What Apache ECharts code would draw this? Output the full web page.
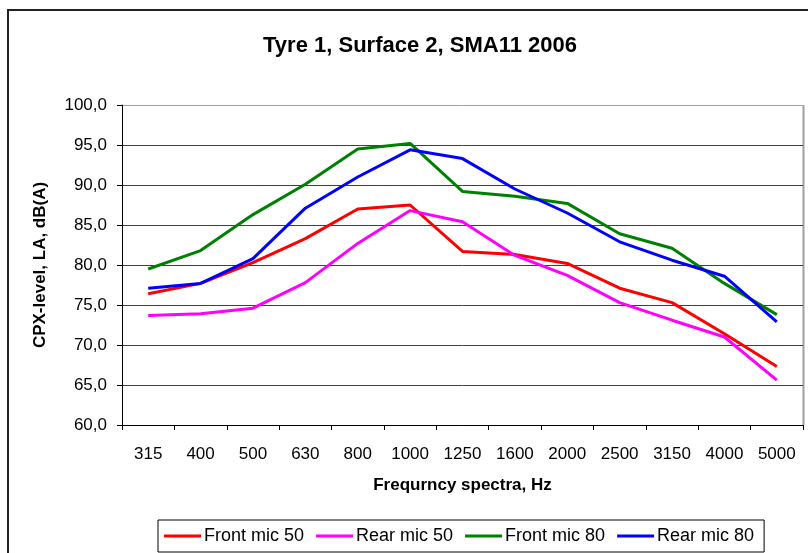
<!DOCTYPE html>
<html>
<head>
<meta charset="utf-8">
<title>Tyre 1, Surface 2, SMA11 2006</title>
<script src="https://cdn.jsdelivr.net/npm/echarts@6/dist/echarts.min.js"></script>
<style>
    html, body { margin: 0; padding: 0; background: #fff; }
    #chart { width: 808px; height: 553px; }
</style>
</head>
<body>
<div id="chart"></div>
<script>
// frequency bands (Hz)
const categories = ['315', '400', '500', '630', '800', '1000', '1250', '1600', '2000', '2500', '3150', '4000', '5000'];

// CPX-level, LA, dB(A)
const frontMic50 = [76.4, 77.7, 80.3, 83.3, 87.0, 87.5, 81.7, 81.3, 80.2, 77.1, 75.3, 71.4, 67.3];
const rearMic50  = [73.7, 73.9, 74.6, 77.8, 82.7, 86.8, 85.4, 81.2, 78.7, 75.3, 73.1, 71.0, 65.6];
const frontMic80 = [79.5, 81.8, 86.3, 90.1, 94.5, 95.2, 89.2, 88.6, 87.7, 83.9, 82.1, 77.7, 73.8];
const rearMic80  = [77.1, 77.7, 80.8, 87.1, 91.0, 94.4, 93.3, 89.5, 86.5, 82.9, 80.6, 78.6, 72.9];

const yTicks = { min: 60, max: 100, step: 5 };

const chart = echarts.init(document.getElementById('chart'), null, { renderer: 'canvas' });

// dark grid lines, the top one (100,0) is the light plot border
const gridColors = [];
for (let v = yTicks.min; v <= yTicks.max; v += yTicks.step) {
    gridColors.push(v === yTicks.max ? '#a0a0a0' : '#404040');
}

const lineSeries = (name, data, color) => ({
    name: name,
    type: 'line',
    data: data,
    showSymbol: false,
    symbol: 'none',
    lineStyle: { color: color, width: 3 },
    itemStyle: { color: color },
    animation: false
});

const options = {
    backgroundColor: '#fff',
    textStyle: { fontFamily: 'Arial, "Liberation Sans", sans-serif', color: '#000' },
    title: {
        text: 'Tyre 1, Surface 2, SMA11 2006',
        left: 415,
        top: 30,
        textAlign: 'center',
        textStyle: { fontSize: 22, fontWeight: 'bold', color: '#000' }
    },
    graphic: [{
        type: 'rect',
        shape: { x: 8, y: 10, width: 900, height: 700 },
        style: { fill: 'none', stroke: '#222', lineWidth: 2 },
        silent: true
    }, {
        type: 'line',
        shape: { x1: 803.5, y1: 105, x2: 803.5, y2: 425 },
        style: { stroke: '#a0a0a0', lineWidth: 2 },
        silent: true
    }],
    grid: {
        left: 122,
        right: 5,
        top: 105,
        bottom: 128,
        containLabel: false
    },
    legend: {
        left: 158,
        top: 520,
        padding: [7, 10, 7, 6],
        borderColor: '#000',
        borderWidth: 1,
        itemWidth: 37,
        itemHeight: 3,
        itemGap: 12,
        icon: 'rect',
        textStyle: { fontSize: 18, color: '#000', padding: [0, 0, 0, -2] },
        data: ['Front mic 50', 'Rear mic 50', 'Front mic 80', 'Rear mic 80']
    },
    xAxis: {
        type: 'category',
        data: categories,
        boundaryGap: true,
        axisLine: { show: true, lineStyle: { color: '#000', width: 1 } },
        axisTick: { show: true, length: 5, lineStyle: { color: '#000' } },
        axisLabel: { fontSize: 17, color: '#000', margin: 21, interval: 0 },
        splitLine: { show: false },
        name: 'Frequrncy spectra, Hz',
        nameLocation: 'middle',
        nameGap: 52,
        nameTextStyle: { fontSize: 17, fontWeight: 'bold', color: '#000' }
    },
    yAxis: {
        type: 'value',
        min: yTicks.min,
        max: yTicks.max,
        interval: yTicks.step,
        axisLine: { show: true, lineStyle: { color: '#000', width: 1 } },
        axisTick: { show: true, length: 5, lineStyle: { color: '#000' } },
        axisLabel: {
            fontSize: 17,
            color: '#000',
            margin: 15,
            formatter: v => v.toFixed(1).replace('.', ',')
        },
        splitLine: { show: true, lineStyle: { color: gridColors, width: 1 } },
        name: 'CPX-level, LA, dB(A)',
        nameLocation: 'middle',
        nameGap: 73,
        nameTextStyle: { fontSize: 17, fontWeight: 'bold', color: '#000' }
    },
    series: [
        lineSeries('Front mic 50', frontMic50, '#ff0000'),
        lineSeries('Rear mic 50', rearMic50, '#ff00ff'),
        lineSeries('Front mic 80', frontMic80, '#008000'),
        lineSeries('Rear mic 80', rearMic80, '#0000ff')
    ],
    animation: false
};

chart.setOption(options);
</script>
</body>
</html>
